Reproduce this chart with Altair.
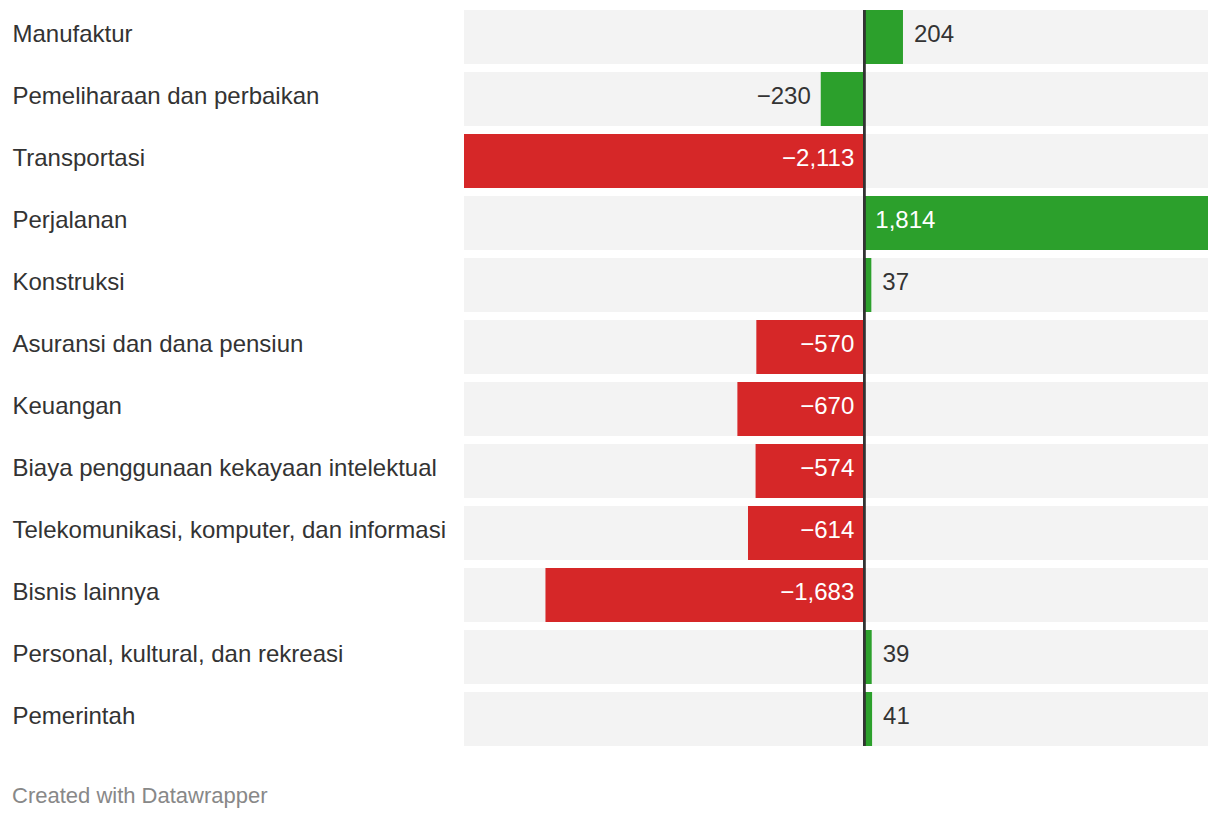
import altair as alt
import pandas as pd

categories = [
    "Manufaktur",
    "Pemeliharaan dan perbaikan",
    "Transportasi",
    "Perjalanan",
    "Konstruksi",
    "Asuransi dan dana pensiun",
    "Keuangan",
    "Biaya penggunaan kekayaan intelektual",
    "Telekomunikasi, komputer, dan informasi",
    "Bisnis lainnya",
    "Personal, kultural, dan rekreasi",
    "Pemerintah",
]
values = [204, -230, -2113, 1814, 37, -570, -670, -574, -614, -1683, 39, 41]
bar_colors = [
    "#2ca02c", "#2ca02c", "#d62728", "#2ca02c", "#2ca02c", "#d62728",
    "#d62728", "#d62728", "#d62728", "#d62728", "#2ca02c", "#2ca02c",
]

df = pd.DataFrame({"category": categories, "value": values, "color": bar_colors})
df["lo"] = df["value"].min()
df["hi"] = df["value"].max()
df["inside"] = df["value"].abs() > 400
df["lx"] = df["value"].where(~df["inside"], 0)
df["label"] = df["value"].map(lambda v: f"{v:,}".replace("-", "\u2212"))
df["tcolor"] = df["inside"].map(lambda b: "#ffffff" if b else "#333333")
df["zero"] = 0

FONT = "Liberation Sans"
FS = 24

y_enc = alt.Y(
    "category:N",
    sort=categories,
    title=None,
    scale=alt.Scale(paddingInner=8 / 62, paddingOuter=0),
    axis=alt.Axis(
        domain=False, ticks=False, labelAlign="left", labelPadding=452,
        labelFont=FONT, labelFontSize=FS, labelColor="#333333", labelLimit=1000,
        labelOffset=-2,
    ),
)
x_scale = alt.Scale(nice=False, padding=0)

base = alt.Chart(df)

bg = base.mark_bar(color="#f3f3f3").encode(
    y=y_enc,
    x=alt.X("lo:Q", scale=x_scale, axis=None),
    x2="hi:Q",
)

bars = base.mark_bar().encode(
    y=y_enc,
    x=alt.X("value:Q", scale=x_scale, axis=None),
    x2="zero:Q",
    color=alt.Color("color:N", scale=None),
)

zero = base.mark_rule(color="#333333", strokeWidth=1.6).encode(
    x=alt.X("zero:Q", scale=x_scale, axis=None)
)

pos_labels = base.transform_filter("datum.value >= 0").mark_text(
    align="left", baseline="middle", dx=11, dy=-2, font=FONT, fontSize=FS
).encode(
    y=y_enc,
    x=alt.X("lx:Q", scale=x_scale, axis=None),
    text="label:N",
    color=alt.Color("tcolor:N", scale=None),
)

neg_labels = base.transform_filter("datum.value < 0").mark_text(
    align="right", baseline="middle", dx=-10, dy=-2, font=FONT, fontSize=FS
).encode(
    y=y_enc,
    x=alt.X("lx:Q", scale=x_scale, axis=None),
    text="label:N",
    color=alt.Color("tcolor:N", scale=None),
)

chart = alt.layer(bg, bars, zero, pos_labels, neg_labels).properties(
    width=744,
    height=736,
    padding={"left": 4, "top": 1, "right": 4, "bottom": 4},
    background="white",
    title=alt.TitleParams(
        "Created with Datawrapper",
        orient="bottom",
        anchor="start",
        frame="bounds",
        font=FONT,
        fontSize=22,
        fontWeight="normal",
        color="#888888",
        offset=39,
    ),
).configure_view(stroke=None)

chart.save("out.html", embed_options={"renderer": "svg", "actions": False})
